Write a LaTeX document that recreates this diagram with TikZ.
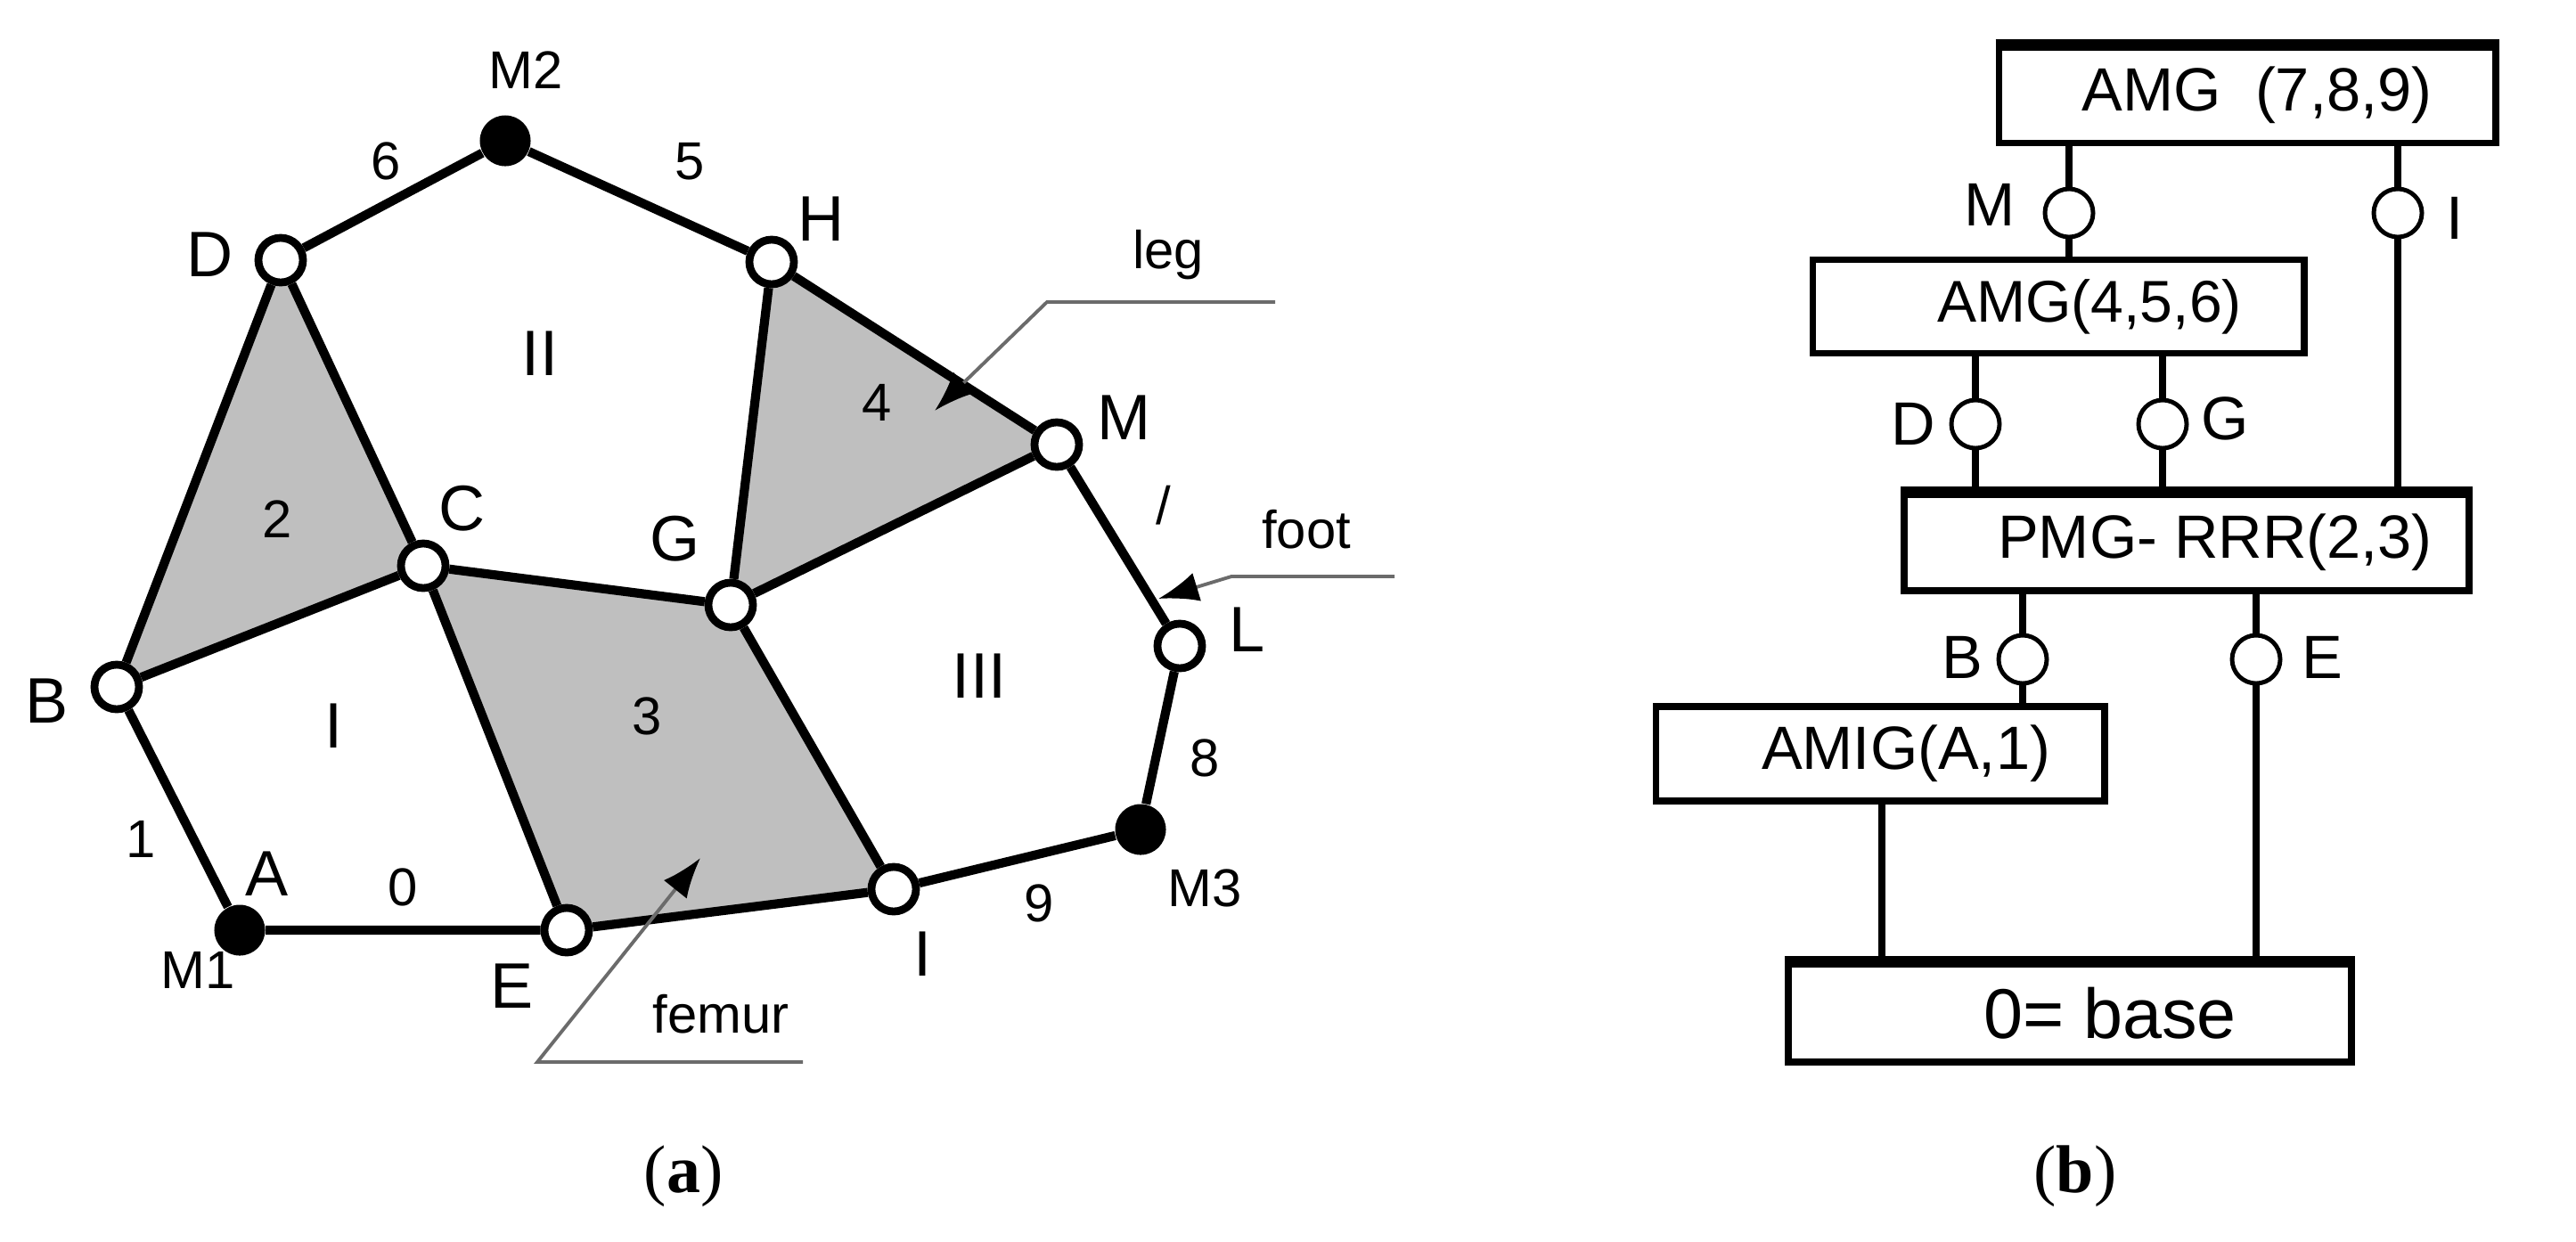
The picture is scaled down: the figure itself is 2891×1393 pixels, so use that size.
\documentclass[tikz,border=0pt]{standalone}
\usepackage{fontspec}
\setmainfont{Liberation Sans}
\newfontfamily\capfont{Liberation Serif}
\usetikzlibrary{arrows.meta,backgrounds}
\definecolor{LinkGray}{rgb}{0.75,0.75,0.75}
\definecolor{LeadGray}{rgb}{0.42,0.42,0.42}
\tikzset{
  joint/.style={circle,draw,fill=white,line width=2.5pt,inner sep=0pt,minimum size=0.5cm},
  motor/.style={circle,fill=black,inner sep=0pt,minimum size=0.57cm},
  hinge/.style={circle,draw,fill=white,line width=1.4pt,inner sep=0pt,minimum size=0.54cm},
  link/.style={line width=2.9pt},
  lead/.style={line width=1.1pt,LeadGray,-{Latex[length=0.45cm,width=0.33cm,color=black]}},
  module/.style={draw,line width=2.2pt,inner sep=0pt},
  wire/.style={line width=2.2pt},
  jointtxt/.style={font=\fontsize{20.5}{23}\selectfont},
  bigtxt/.style={font=\fontsize{19.5}{22}\selectfont},
  midtxt/.style={font=\fontsize{17}{20}\selectfont},
  captxt/.style={font=\capfont\fontsize{21.6}{24}\selectfont}
}
\begin{document}
\begin{tikzpicture}[x=0.01cm,y=-0.01cm]
  \useasboundingbox (0,0) rectangle (2891,1393);
  % mechanism
  \node[motor] (M2) at (567,158) {};
  \node[motor] (A) at (269,1044) {};
  \node[motor] (M3) at (1280,931) {};
  \node[joint] (D) at (315,292) {};
  \node[joint] (H) at (866,294) {};
  \node[joint] (C) at (475,635) {};
  \node[joint] (G) at (820,679) {};
  \node[joint] (B) at (131,771) {};
  \node[joint] (E) at (636,1044) {};
  \node[joint] (I) at (1003,998) {};
  \node[joint] (M) at (1186,499) {};
  \node[joint] (L) at (1324,725) {};
  \draw[link] (D)--(M2)--(H)--(M)--(L)--(M3)--(I)--(E)--(A)--(B)--(D)--(C)--(G)--(H);
  \draw[link] (B)--(C)--(E);
  \draw[link] (M)--(G)--(I);
  \begin{scope}[on background layer]
    \fill[LinkGray] (D.center)--(C.center)--(B.center)--cycle;
    \fill[LinkGray] (C.center)--(G.center)--(I.center)--(E.center)--cycle;
    \fill[LinkGray] (H.center)--(M.center)--(G.center)--cycle;
  \end{scope}
  % leaders
  \coordinate (legA) at (1431,339);
  \coordinate (legB) at (1175,339);
  \coordinate (legC) at (1049,461);
  \coordinate (footA) at (1565,647);
  \coordinate (footB) at (1382,647);
  \coordinate (footC) at (1300,672);
  \coordinate (femA) at (901,1192);
  \coordinate (femB) at (603,1192);
  \coordinate (femC) at (786,963);
  \draw[lead] (legA)--(legB)--(legC);
  \draw[lead] (footA)--(footB)--(footC);
  \draw[lead] (femA)--(femB)--(femC);
  % labels
  \node[midtxt] (tM2) at (590,79) {M2};
  \node[midtxt] (tM1) at (222,1089) {M1};
  \node[midtxt] (tM3) at (1352,997) {M3};
  \node[jointtxt] (tD) at (236,286) {D};
  \node[jointtxt] (tH) at (922,246) {H};
  \node[jointtxt] (tC) at (519,571) {C};
  \node[jointtxt] (tG) at (758,605) {G};
  \node[jointtxt] (tM) at (1262,469) {M};
  \node[jointtxt] (tL) at (1400,707) {L};
  \node[jointtxt] (tB) at (53,787) {B};
  \node[jointtxt] (tA) at (300,981) {A};
  \node[jointtxt] (tE) at (575,1107) {E};
  \node[jointtxt] (tI) at (1035,1071) {I};
  \node[midtxt] (n0) at (452,996) {0};
  \node[midtxt] (n1) at (158,942) {1};
  \node[midtxt] (n2) at (311,583) {2};
  \node[midtxt] (n3) at (726,804) {3};
  \node[midtxt] (n4) at (984,452) {4};
  \node[midtxt] (n5) at (774,181) {5};
  \node[midtxt] (n6) at (433,181) {6};
  \node[midtxt] (n7) at (1306,567) {/};
  \node[midtxt] (n8) at (1352,851) {8};
  \node[midtxt] (n9) at (1166,1014) {9};
  \node[jointtxt] (rI) at (375,815) {I};
  \node[jointtxt] (rII) at (606,397) {II};
  \node[jointtxt] (rIII) at (1099,759) {III};
  \node[midtxt] (tleg) at (1311,286) {leg};
  \node[midtxt] (tfoot) at (1466,594) {foot};
  \node[midtxt] (tfemur) at (809,1138) {femur};
  \node[captxt] (capa) at (767,1320) {(\textbf{a})};
  % graph
  \node[module,bigtxt,minimum width=5.57cm,minimum height=1.07cm] (amgtop) at (2522,107) {\hspace*{0.22cm}AMG\ \ (7,8,9)};
  \node[module,font=\fontsize{18.8}{22}\selectfont,minimum width=5.51cm,minimum height=1.05cm] (amgmid) at (2310,344) {\hspace*{0.70cm}AMG(4,5,6)};
  \node[module,bigtxt,minimum width=6.33cm,minimum height=1.08cm] (pmg) at (2454,609) {\hspace*{0.64cm}PMG- RRR(2,3)};
  \node[module,bigtxt,minimum width=5.03cm,minimum height=1.06cm] (amig) at (2110,846) {\hspace*{0.58cm}AMIG(A,1)};
  \node[module,font=\fontsize{22.5}{25}\selectfont,minimum width=6.32cm,minimum height=1.10cm] (base) at (2323,1137) {\hspace*{0.9cm}0= base};
  \foreach \topbox in {amgtop,pmg,base}
    \draw[line width=3pt] (\topbox.north west)--(\topbox.north east);
  \node[hinge] (pM) at (2322,239) {};
  \node[hinge] (pI) at (2691,239) {};
  \node[hinge] (pD) at (2217,476) {};
  \node[hinge] (pG) at (2427,476) {};
  \node[hinge] (pB) at (2270,740) {};
  \node[hinge] (pE) at (2532,740) {};
  \coordinate (amigout) at (2112,1000);
  \draw[wire] (amgtop.south -| pM)--(pM)--(pM |- amgmid.north);
  \draw[wire] (amgtop.south -| pI)--(pI)--(pI |- pmg.north);
  \draw[wire] (amgmid.south -| pD)--(pD)--(pD |- pmg.north);
  \draw[wire] (amgmid.south -| pG)--(pG)--(pG |- pmg.north);
  \draw[wire] (pmg.south -| pB)--(pB)--(pB |- amig.north);
  \draw[wire] (pmg.south -| pE)--(pE)--(pE |- base.north);
  \draw[wire] (amig.south -| amigout)--(amigout |- base.north);
  \node[bigtxt] (lM) at (2233,230) {M};
  \node[bigtxt] (lI) at (2755,245) {I};
  \node[bigtxt] (lD) at (2147,476) {D};
  \node[bigtxt] (lG) at (2497,470) {G};
  \node[bigtxt] (lB) at (2202,738) {B};
  \node[bigtxt] (lE) at (2606,738) {E};
  \node[captxt] (capb) at (2329,1320) {(\textbf{b})};
\end{tikzpicture}
\end{document}
